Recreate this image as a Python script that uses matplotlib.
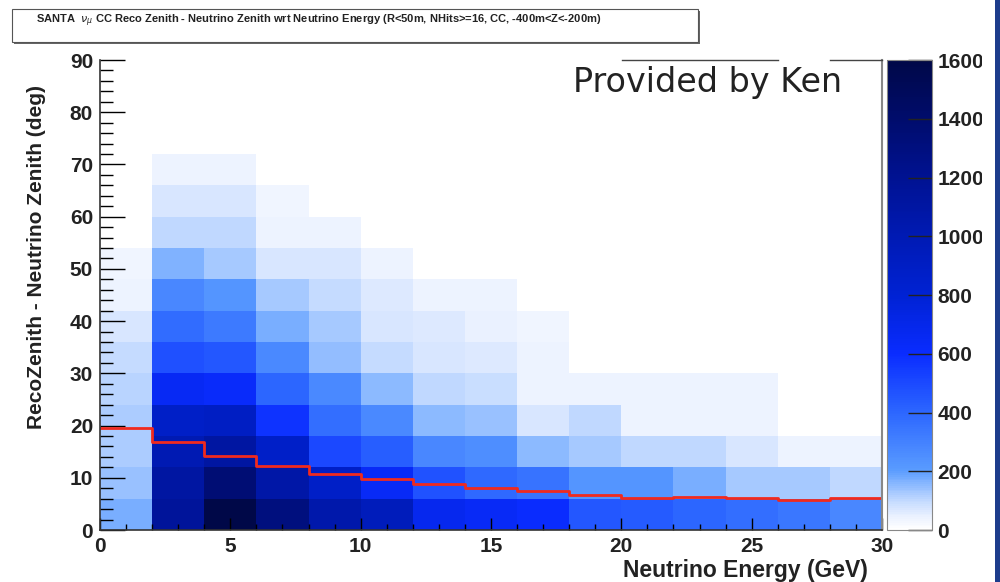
import matplotlib
matplotlib.use("Agg")
import matplotlib.pyplot as plt
import numpy as np
from matplotlib.colors import LinearSegmentedColormap
from matplotlib.patches import Rectangle
from matplotlib.lines import Line2D
from matplotlib.ticker import MultipleLocator

# bins: 2 GeV in energy, 6 deg in zenith difference
energy_edges = np.linspace(0, 30, 16)
zenith_edges = np.linspace(0, 90, 16)

# counts per energy bin, from the lowest zenith bin upward
counts_by_energy = [
    [170, 140, 120, 120, 110, 95, 70, 40, 35],                       # 0-2
    [1150, 1100, 1000, 880, 650, 480, 380, 280, 165, 105, 70, 40],   # 2-4
    [1600, 1350, 1100, 900, 620, 450, 330, 230, 125, 105, 70, 40],   # 4-6
    [1300, 1080, 870, 580, 400, 270, 170, 125, 70, 40, 35],          # 6-8
    [1050, 880, 500, 370, 270, 145, 125, 95, 70, 40],                # 8-10
    [950, 640, 430, 270, 150, 95, 70, 65, 40],                       # 10-12
    [680, 470, 280, 150, 100, 70, 65, 40],                           # 12-14
    [640, 390, 250, 140, 90, 68, 45, 38],                            # 14-16
    [600, 350, 150, 70, 40, 40, 35],                                 # 16-18
    [450, 230, 130, 100, 40],                                        # 18-20
    [440, 230, 100, 40, 40],                                         # 20-22
    [400, 170, 100, 40, 40],                                         # 22-24
    [370, 125, 70, 40, 40],                                          # 24-26
    [340, 125, 40],                                                  # 26-28
    [280, 100, 40],                                                  # 28-30
]

# red profile line (deg) per energy bin
median_diff = [19.6, 16.8, 14.2, 12.3, 10.7, 9.8, 8.9, 8.1, 7.5, 6.8, 6.2, 6.4, 6.2, 5.8, 6.2]

cbar_ticks = [0, 200, 400, 600, 800, 1000, 1200, 1400, 1600]

title_txt = (r"SANTA  $\nu_{\mu}$ CC Reco Zenith - Neutrino Zenith wrt Neutrino Energy "
             r"(R<50m, NHits>=16, CC, -400m<Z<-200m)")

# build histogram grid
H = np.zeros((len(zenith_edges) - 1, len(energy_edges) - 1))
for j, col in enumerate(counts_by_energy):
    H[:len(col), j] = col

cmap = LinearSegmentedColormap.from_list("rootblue", [
    (0.0, "#ffffff"), (0.03, "#e8f0ff"), (0.0625, "#c0d8ff"), (0.125, "#5a9cff"),
    (0.25, "#2c66ff"), (0.375, "#0a2cff"), (0.5, "#0022d4"), (0.625, "#001ab4"),
    (0.75, "#001292"), (0.875, "#000c6c"), (1.0, "#000848")], N=256)

fig = plt.figure(figsize=(10, 5.82), dpi=100)
ax = fig.add_axes([0.100, 0.0893, 0.782, 0.8076])
cax = fig.add_axes([0.887, 0.0893, 0.045, 0.8076])

mesh = ax.pcolormesh(energy_edges, zenith_edges, H, cmap=cmap, vmin=0, vmax=1600)
ax.step(energy_edges, median_diff + [median_diff[-1]], where="post",
        color="#f02a1e", lw=2)

ax.set_xlim(0, 30)
ax.set_ylim(0, 90)
ax.xaxis.set_major_locator(MultipleLocator(5))
ax.xaxis.set_minor_locator(MultipleLocator(1))
ax.yaxis.set_major_locator(MultipleLocator(10))
ax.yaxis.set_minor_locator(MultipleLocator(2))
ax.tick_params(axis="x", which="major", direction="in", length=9, width=1, pad=5)
ax.tick_params(axis="x", which="minor", direction="in", length=4.5, width=1)
ax.tick_params(axis="y", which="major", direction="in", length=18, width=1, pad=5)
ax.tick_params(axis="y", which="minor", direction="in", length=9, width=1)
for lab in ax.get_xticklabels() + ax.get_yticklabels():
    lab.set_fontfamily("Liberation Sans")
    lab.set_fontweight("bold")
    lab.set_fontsize(15)
    lab.set_color("#222222")

ax.spines["top"].set_visible(False)
ax.spines["right"].set_color("#888888")
ax.spines["right"].set_linewidth(1.5)
for s in ["left", "bottom"]:
    ax.spines[s].set_color("#333333")
    ax.spines[s].set_linewidth(1.2)

cb = fig.colorbar(mesh, cax=cax)
cb.set_ticks(cbar_ticks)
cb.outline.set_edgecolor("#888888")
cax.tick_params(direction="in", length=17, width=1, pad=4, colors="#222222")
for lab in cax.get_yticklabels():
    lab.set_fontfamily("Liberation Sans")
    lab.set_fontweight("bold")
    lab.set_fontsize(15)

# axis titles
fig.text(0.037, 1 - 85 / 582, "RecoZenith - Neutrino Zenith (deg)", rotation=90,
         ha="center", va="top", fontsize=15, fontweight="bold",
         family="Liberation Sans", color="#222222")
fig.text(0.868, 1 - 570 / 582, "Neutrino Energy (GeV)", ha="right", va="center",
         fontsize=16.5, fontweight="bold", family="Liberation Sans", color="#222222")

# title box with shadow
fig.patches.append(Rectangle((0.014, 1 - 44 / 582), 0.686, 33 / 582, transform=fig.transFigure,
                             fc="#666666", ec="none", zorder=1))
fig.patches.append(Rectangle((0.012, 1 - 42 / 582), 0.686, 33 / 582, transform=fig.transFigure,
                             fc="white", ec="#555555", lw=0.8, zorder=2))
fig.text(0.036, 1 - 21 / 582, title_txt, ha="left", va="center", fontsize=8,
         fontweight="bold", family="Liberation Sans", color="#222222", zorder=3)

# "Provided by Ken" box remnants
ytop = 1 - 60 / 582
fig.add_artist(Line2D([0.622, 0.778], [ytop, ytop], color="#444444", lw=1))
fig.add_artist(Line2D([0.830, 0.882], [ytop, ytop], color="#444444", lw=1))
fig.text(0.573, 1 - 92 / 582, "Provided by Ken", ha="left", va="baseline",
         fontsize=24, family="DejaVu Sans", color="#222222")

# slide edge
fig.patches.append(Rectangle((0.982, 0), 0.013, 1, transform=fig.transFigure,
                             fc="white", ec="none", zorder=10))
fig.patches.append(Rectangle((0.995, 0), 0.005, 1, transform=fig.transFigure,
                             fc="#1d3c8c", ec="none", zorder=11))

fig.savefig("out.png", dpi=100)
